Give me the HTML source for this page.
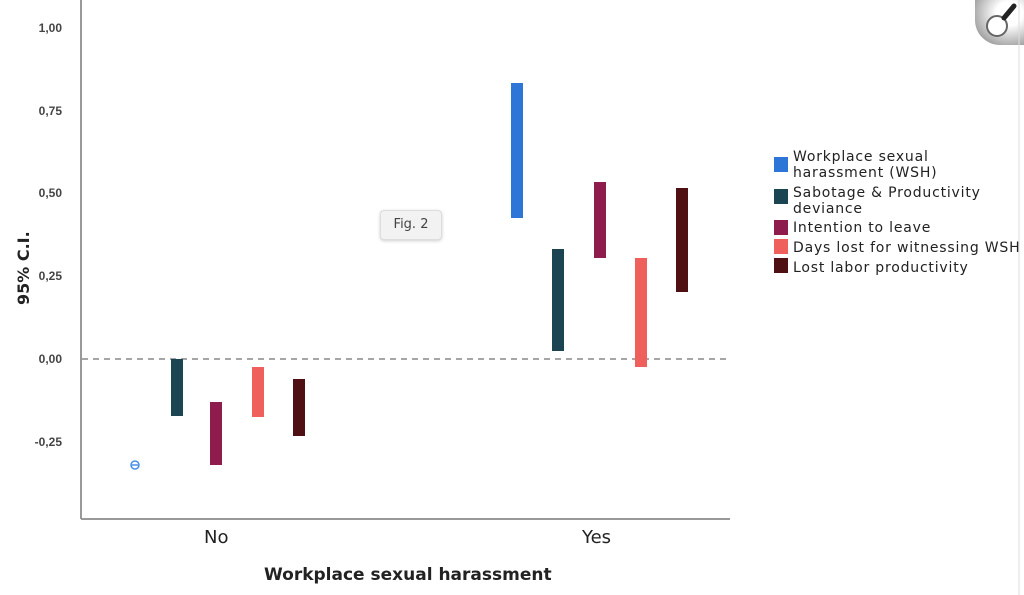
<!DOCTYPE html>
<html><head><style>
body{margin:0;width:1024px;height:595px;background:#fff;position:relative;overflow:hidden;font-family:"DejaVu Sans","Liberation Sans",sans-serif}
.a{position:absolute}
.t{position:absolute;font-size:12px;color:#444;text-align:right;width:50px;left:12px;font-weight:bold;font-family:"Liberation Sans",sans-serif}
.lg{position:absolute;left:793px;font-size:14px;color:#222;line-height:16px;white-space:nowrap;letter-spacing:0.8px}
.sq{position:absolute;left:774px;width:14px;height:15px}
</style></head><body>
<svg class="a" style="left:0;top:0" width="1024" height="595">
<line x1="81" y1="0" x2="81" y2="519" stroke="#999" stroke-width="2"/>
<line x1="81" y1="519" x2="730" y2="519" stroke="#999" stroke-width="2"/>
<line x1="82" y1="359" x2="730" y2="359" stroke="#888" stroke-width="1.5" stroke-dasharray="6,5"/>
<circle cx="135" cy="465" r="4" fill="none" stroke="#4a90e8" stroke-width="1.5"/><line x1="131" y1="465" x2="139" y2="465" stroke="#4a90e8" stroke-width="1.5"/>
<rect x="171" y="359" width="12" height="57" fill="#1b4553"/>
<rect x="210" y="402" width="12" height="63" fill="#8e1c4d"/>
<rect x="252" y="367" width="12" height="50" fill="#ef605c"/>
<rect x="293" y="379" width="12" height="57" fill="#4e1012"/>
<rect x="511" y="83" width="12" height="135" fill="#2e75d8"/>
<rect x="552" y="249" width="12" height="102" fill="#1b4553"/>
<rect x="594" y="182" width="12" height="76" fill="#8e1c4d"/>
<rect x="635" y="258" width="12" height="109" fill="#ef605c"/>
<rect x="676" y="188" width="12" height="104" fill="#4e1012"/>
<defs><radialGradient id="g" cx="0.7" cy="0.3" r="0.9"><stop offset="0.3" stop-color="#fff"/><stop offset="1" stop-color="#888"/></radialGradient></defs>
<path d="M975 0 H1024 V45 H1000 A25 25 0 0 1 975 20 Z" fill="url(#g)"/>
<circle cx="997" cy="26" r="10" fill="#fff" stroke="#666" stroke-width="2"/>
<line x1="1004" y1="18" x2="1014" y2="6" stroke="#222" stroke-width="5" stroke-linecap="round"/>
<line x1="1019" y1="0" x2="1019" y2="595" stroke="#ddd" stroke-width="1"/>
</svg>
<div class="t" style="top:21px">1,00</div>
<div class="t" style="top:104px">0,75</div>
<div class="t" style="top:186px">0,50</div>
<div class="t" style="top:269px">0,25</div>
<div class="t" style="top:352px">0,00</div>
<div class="t" style="top:435px">-0,25</div>
<div class="a" style="left:14px;top:305px;transform:rotate(-90deg);transform-origin:left top;font-size:16px;font-weight:bold;color:#222;white-space:nowrap">95% C.I.</div>
<div class="a" style="left:204px;top:527px;font-size:18px;color:#222">No</div>
<div class="a" style="left:582px;top:527px;font-size:18px;color:#222">Yes</div>
<div class="a" style="left:264px;top:565px;font-size:17px;font-weight:bold;color:#222;white-space:nowrap">Workplace sexual harassment</div>
<div class="a" style="left:380px;top:210px;width:60px;height:28px;background:#f2f2f2;border:1px solid #ddd;border-radius:4px;box-shadow:0 1px 3px rgba(0,0,0,.2);font-size:13px;color:#444;text-align:center;line-height:28px">Fig. 2</div>
<div class="sq" style="top:157px;background:#2e75d8"></div>
<div class="sq" style="top:189px;background:#1b4553"></div>
<div class="sq" style="top:220px;background:#8e1c4d"></div>
<div class="sq" style="top:239px;background:#ef605c"></div>
<div class="sq" style="top:258px;background:#4e1012"></div>
<div class="lg" style="top:149px">Workplace sexual<br>harassment (WSH)</div>
<div class="lg" style="top:185px">Sabotage &amp; Productivity<br>deviance</div>
<div class="lg" style="top:220px">Intention to leave</div>
<div class="lg" style="top:240px">Days lost for witnessing WSH</div>
<div class="lg" style="top:260px">Lost labor productivity</div>
</body></html>
